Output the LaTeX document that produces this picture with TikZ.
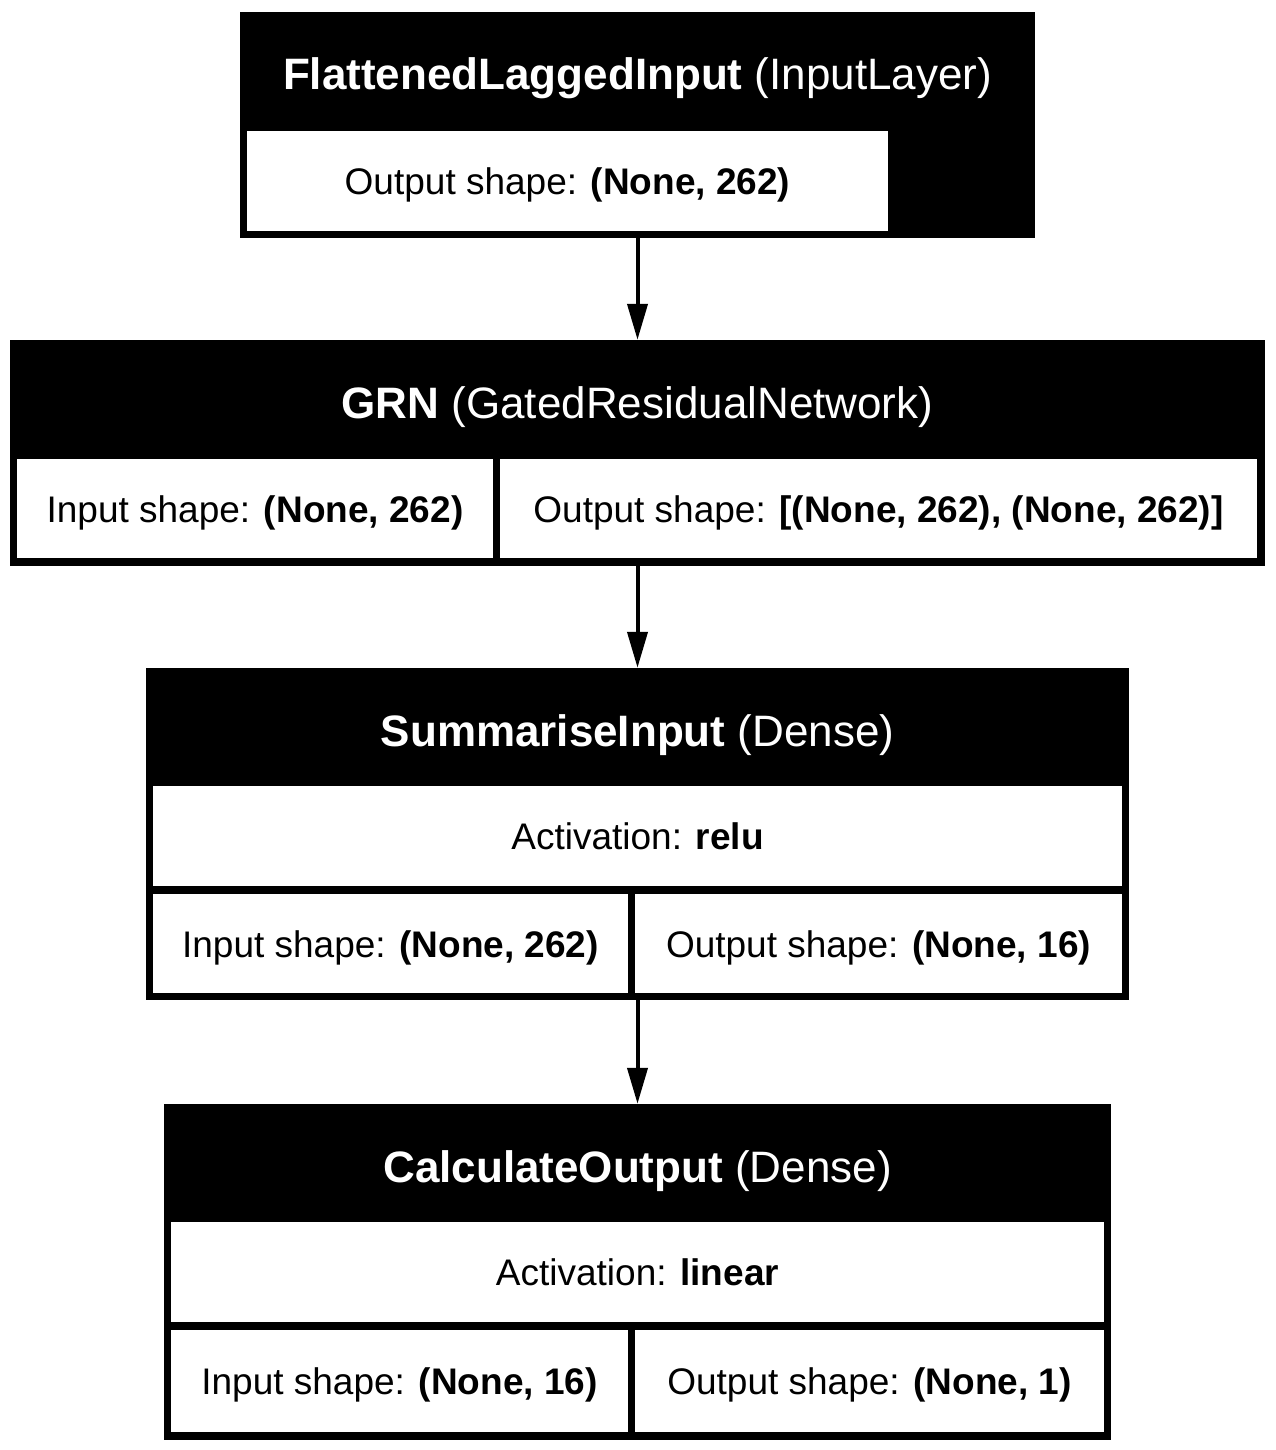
\documentclass[tikz,border=0pt]{standalone}
\usepackage{fontspec}
\setmainfont{Liberation Sans}
\usetikzlibrary{arrows.meta}
\tikzset{
  layer/.style={fill=black, draw=none, inner sep=0pt},
  cell/.style={fill=white, draw=none, inner sep=0pt, font=\fontsize{37}{44}\selectfont, text height=29.5pt, text depth=2.5pt},
  ttl/.style={text=white, anchor=base, inner sep=0pt, font=\fontsize{44}{53}\selectfont},
  conn/.style={line width=4pt, -{Triangle[length=36pt,width=20pt]}}
}
\begin{document}
\begin{tikzpicture}[x=1pt,y=-1pt]
\fill[white] (0,0) rectangle (1275,1450);
\useasboundingbox (0,0) rectangle (1275,1450);
% box 1
\node[layer, minimum width=795pt, minimum height=226pt] (b1) at (637.5,125) {};
\node[ttl] (t1) at (637.5,90) {\textbf{FlattenedLaggedInput} (InputLayer)};
\node[cell, minimum width=641pt, minimum height=100pt] (c1o) at (567.5,181) {Output shape: \textbf{(None, 262)}};
% box 2
\node[layer, minimum width=1255pt, minimum height=226pt] (b2) at (637.5,453) {};
\node[ttl] (t2) at (637.5,418) {\textbf{GRN} (GatedResidualNetwork)};
\node[cell, minimum width=476pt, minimum height=99pt] (c2i) at (255,508.5) {Input shape: \textbf{(None, 262)}};
\node[cell, minimum width=757pt, minimum height=99pt] (c2o) at (878.5,508.5) {Output shape: \textbf{[(None, 262), (None, 262)]}};
% box 3
\node[layer, minimum width=983pt, minimum height=332pt] (b3) at (637.5,834) {};
\node[ttl] (t3) at (637.5,746) {\textbf{SummariseInput} (Dense)};
\node[cell, minimum width=969pt, minimum height=100pt] (c3a) at (637.5,836) {Activation: \textbf{relu}};
\node[cell, minimum width=475pt, minimum height=99pt] (c3i) at (390.5,943.5) {Input shape: \textbf{(None, 262)}};
\node[cell, minimum width=487pt, minimum height=99pt] (c3o) at (878.5,943.5) {Output shape: \textbf{(None, 16)}};
% box 4
\node[layer, minimum width=947pt, minimum height=336pt] (b4) at (637.5,1272) {};
\node[ttl] (t4) at (637.5,1182) {\textbf{CalculateOutput} (Dense)};
\node[cell, minimum width=933pt, minimum height=100pt] (c4a) at (637.5,1272) {Activation: \textbf{linear}};
\node[cell, minimum width=457pt, minimum height=102pt] (c4i) at (399.5,1381) {Input shape: \textbf{(None, 16)}};
\node[cell, minimum width=469pt, minimum height=102pt] (c4o) at (869.5,1381) {Output shape: \textbf{(None, 1)}};
% connectors
\draw[conn] (b1.south) -- (b2.north);
\draw[conn] (b2.south) -- (b3.north);
\draw[conn] (b3.south) -- (b4.north);
\end{tikzpicture}
\end{document}
